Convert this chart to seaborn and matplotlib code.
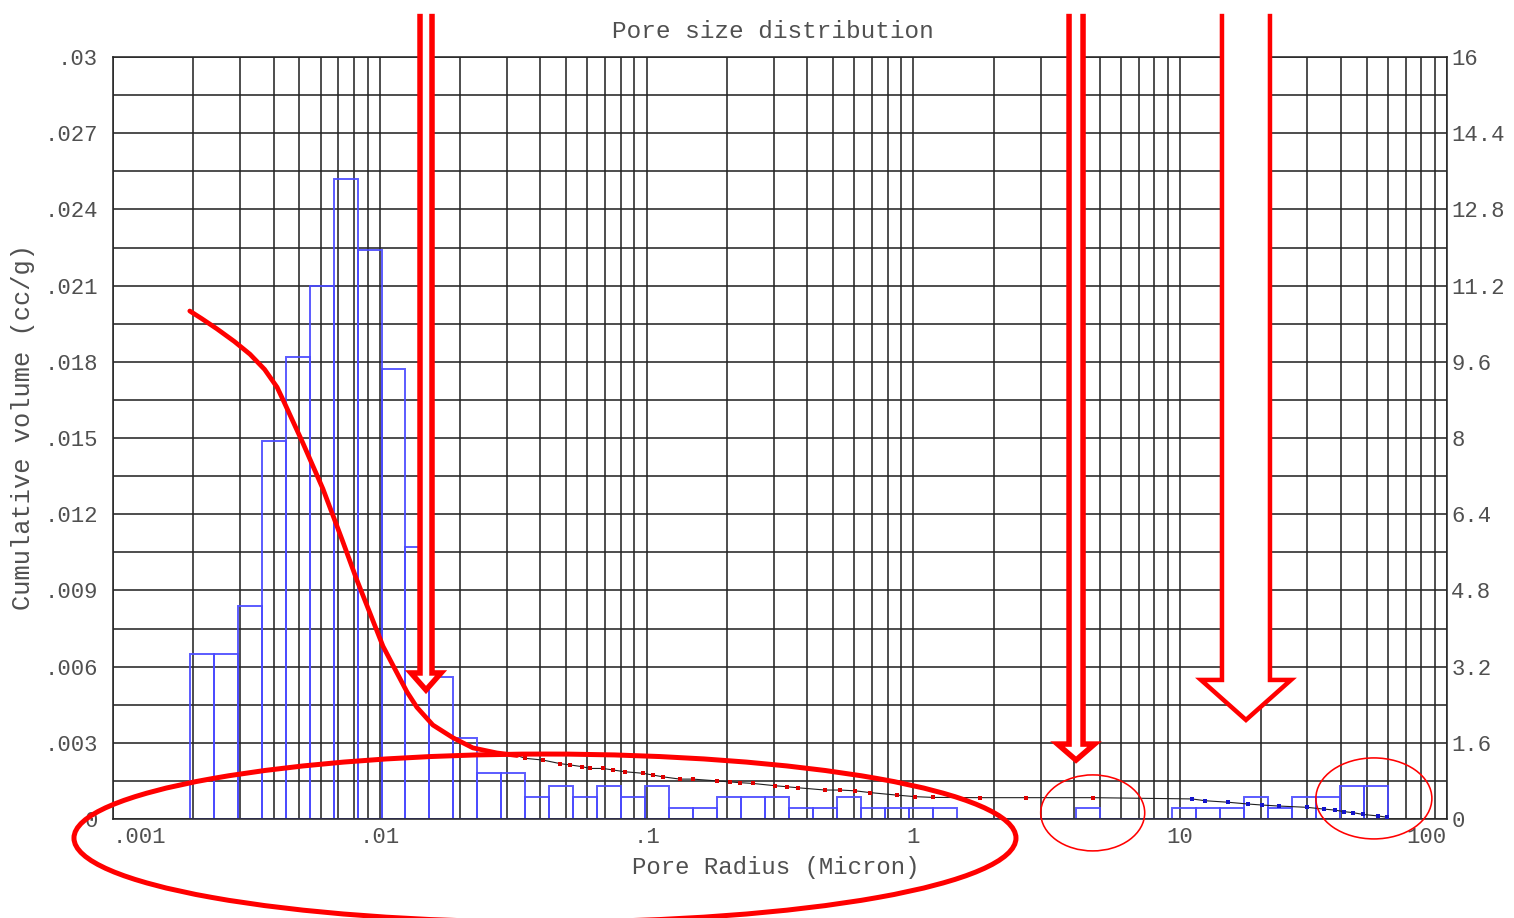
import numpy as np
import matplotlib
matplotlib.use("Agg")
import matplotlib.pyplot as plt
import matplotlib.transforms as mtransforms
from matplotlib.patches import Ellipse, Polygon
from matplotlib.ticker import FixedLocator, MultipleLocator, NullFormatter
import seaborn as sns

# ---------------------------------------------------------------------------
# Data
# ---------------------------------------------------------------------------
# Histogram bins: equal log-width bins of pore radius (micron)
bin_r_min = 0.00194
bin_r_max = 60.1
n_bins = 50

# Incremental pore volume per bin (cc/g)
increment_volume = [
    0.0065, 0.0065, 0.0084, 0.0149, 0.0182, 0.0210, 0.0252, 0.0224, 0.0177, 0.0107,
    0.0056, 0.0032, 0.0018, 0.0018, 0.00087, 0.0013, 0.00087, 0.0013, 0.00087, 0.0013,
    0.00043, 0.00043, 0.00087, 0.00087, 0.00087, 0.00043, 0.00043, 0.00087, 0.00043, 0.00043,
    0.00043, 0.00043, 0.0, 0.0, 0.0, 0.0, 0.0, 0.00043, 0.0, 0.0,
    0.0, 0.00043, 0.00043, 0.00043, 0.00087, 0.00043, 0.00087, 0.00087, 0.0013, 0.0013,
]

# Cumulative volume, closely spaced points at small radii (micron, cc/g)
cum_fine_r = [0.00194, 0.00215, 0.00245, 0.00285, 0.00326, 0.00370, 0.00412, 0.00434,
              0.00515, 0.00612, 0.00722, 0.00821, 0.00919, 0.01028, 0.0114, 0.01265,
              0.01377, 0.01581, 0.01879, 0.02233, 0.02748, 0.0327]
cum_fine_v = [0.0200, 0.0197, 0.0193, 0.0188, 0.0183, 0.0177, 0.0170, 0.0165,
              0.0148, 0.0130, 0.0110, 0.0094, 0.0081, 0.0068, 0.0059, 0.0050,
              0.0044, 0.0037, 0.0032, 0.0028, 0.0026, 0.0025]

# Cumulative volume, sparse points at larger radii
cum_coarse_r = [0.0350, 0.0409, 0.0474, 0.0516, 0.0573, 0.0614, 0.0687, 0.0748, 0.0830,
                0.0969, 0.1057, 0.1152, 0.1334, 0.1492, 0.1836, 0.2054, 0.2239, 0.2505,
                0.3029, 0.3360, 0.3694, 0.4664, 0.5308, 0.6041, 0.6876, 0.8679, 1.014,
                1.185, 1.776, 2.64, 4.71]
cum_coarse_v = [0.00239, 0.00232, 0.00218, 0.00213, 0.00206, 0.00199, 0.00199, 0.00193,
                0.00186, 0.00180, 0.00173, 0.00166, 0.00157, 0.00157, 0.00150, 0.00146,
                0.00143, 0.00140, 0.00131, 0.00127, 0.00123, 0.00114, 0.00114, 0.00111,
                0.00104, 0.00094, 0.00088, 0.00085, 0.00084, 0.00084, 0.00084]

# Cumulative volume, large-pore points
cum_large_r = [11.07, 12.38, 15.11, 17.95, 20.26, 23.46, 29.86, 34.58, 38.04, 41.11,
               44.44, 48.43, 55.11, 59.56]
cum_large_v = [0.00079, 0.00072, 0.00066, 0.00059, 0.00055, 0.00051, 0.00046, 0.00039,
               0.00035, 0.00029, 0.00025, 0.00018, 0.00012, 0.00007]

x_ticks = [0.001, 0.01, 0.1, 1, 10, 100]
x_tick_labels = [".001", ".01", ".1", "1", "10", "100"]
y_ticks = [0, 0.003, 0.006, 0.009, 0.012, 0.015, 0.018, 0.021, 0.024, 0.027, 0.03]
y_tick_labels = ["0", ".003", ".006", ".009", ".012", ".015", ".018", ".021", ".024",
                 ".027", ".03"]
y2_ticks = [0, 1.6, 3.2, 4.8, 6.4, 8, 9.6, 11.2, 12.8, 14.4, 16]
y2_tick_labels = ["0", "1.6", "3.2", "4.8", "6.4", "8", "9.6", "11.2", "12.8", "14.4", "16"]

title_text = "Pore size distribution"
x_label = "Pore Radius (Micron)"
y_label = "Cumulative volume (cc/g)"

# Highlight marks: down arrows (tip radius, tip volume, top volume,
# shaft half width px, head half width px, head length px, stroke px)
arrows = [
    (0.01490, 0.00508, 0.0317, 6, 15, 17, 5.5),
    (4.07, 0.00232, 0.0317, 7, 18.5, 16, 5.5),
    (17.64, 0.0039, 0.0317, 24, 45, 40, 4.5),
]
# Ellipses (centre radius, centre volume, width px, height px, stroke px)
ellipses = [
    (0.0416, -0.00075, 942, 168, 5.0),
    (4.70, 0.00024, 104, 76, 1.6),
    (53.2, 0.00081, 116, 81, 1.6),
]

# ---------------------------------------------------------------------------
# Figure
# ---------------------------------------------------------------------------
sns.set_style("white")
plt.rcParams["font.family"] = ["Liberation Mono", "DejaVu Sans Mono"]
text_color = "#505050"
grid_color = "#262626"

DPI = 100
fig = plt.figure(figsize=(15.14, 9.18), dpi=DPI)
fig.patch.set_facecolor("white")
ax = fig.add_axes([113 / 1514, 1 - 819 / 918, 1334 / 1514, 762 / 918])

# histogram bars
log_lo, log_hi = np.log10(bin_r_min), np.log10(bin_r_max)
log_edges = np.linspace(log_lo, log_hi, n_bins + 1)
bin_centres = 10 ** ((log_edges[:-1] + log_edges[1:]) / 2)
sns.histplot(x=bin_centres, weights=increment_volume, bins=n_bins,
             binrange=(log_lo, log_hi), log_scale=True, stat="count",
             element="bars", fill=False, color="#4a4aff", linewidth=1.4,
             alpha=0.9, ax=ax)

# cumulative curve
all_r = cum_fine_r + cum_coarse_r + cum_large_r
all_v = cum_fine_v + cum_coarse_v + cum_large_v
sns.lineplot(x=all_r, y=all_v, color="#202020", linewidth=0.8, ax=ax,
             sort=False, estimator=None, zorder=3)
sns.lineplot(x=cum_fine_r, y=cum_fine_v, color="#ff0000", linewidth=3.4, ax=ax,
             sort=False, estimator=None, zorder=4)
sns.scatterplot(x=cum_coarse_r, y=cum_coarse_v, marker="s", s=12, color="#e00000",
                linewidth=0, ax=ax, zorder=5)
sns.scatterplot(x=cum_large_r, y=cum_large_v, marker="s", s=11, color="#1414cc",
                linewidth=0, ax=ax, zorder=5)

ax.set_xscale("log")
ax.set_xlim(0.001, 100)
ax.set_ylim(0, 0.03)

# grid: every 1..9 x decade vertically, every 0.0015 horizontally
ax.xaxis.set_major_locator(FixedLocator(x_ticks))
ax.xaxis.set_minor_locator(FixedLocator(
    [k * 10.0 ** e for e in range(-3, 2) for k in range(2, 10)]))
ax.xaxis.set_minor_formatter(NullFormatter())
ax.set_xticklabels(x_tick_labels)
ax.set_yticks(y_ticks)
ax.set_yticklabels(y_tick_labels)
ax.yaxis.set_minor_locator(MultipleLocator(0.0015))
ax.set_axisbelow(True)
ax.grid(True, which="both", color=grid_color, linewidth=1.15)
for sp in ax.spines.values():
    sp.set_color(grid_color)
    sp.set_linewidth(1.15)
ax.tick_params(axis="both", which="both", length=0, labelsize=16,
               labelcolor=text_color)
ax.tick_params(axis="y", pad=11)
ax.tick_params(axis="x", pad=6)
xt = ax.get_xticklabels()
xt[0].set_horizontalalignment("left")
xt[-1].set_horizontalalignment("right")

ax.set_xlabel(x_label, fontsize=17.3, color=text_color)
ax.xaxis.set_label_coords(0.497, -0.048)
ax.set_ylabel(y_label, fontsize=18.3, color=text_color)
ax.yaxis.set_label_coords(-0.0585, 0.514)
ax.set_title(title_text, fontsize=17.6, color=text_color, pad=14, x=0.495)

ax2 = ax.twinx()
ax2.set_ylim(0, 16)
ax2.set_yticks(y2_ticks)
ax2.set_yticklabels(y2_tick_labels)
ax2.grid(False)
ax2.tick_params(axis="y", length=0, labelsize=16, labelcolor=text_color, pad=3)
for sp in ax2.spines.values():
    sp.set_visible(False)

# ---------------------------------------------------------------------------
# Highlight marks
# ---------------------------------------------------------------------------
def anchored(r, v):
    return fig.dpi_scale_trans + mtransforms.ScaledTranslation(r, v, ax.transData)

for r, v, v_top, s, w, h, lw in arrows:
    tip = ax.transData.transform((r, v))
    top = ax.transData.transform((r, v_top))
    L = (top[1] - tip[1])
    pts = np.array([(-s, L), (-s, h), (-w, h), (0, 0), (w, h), (s, h), (s, L)]) / DPI
    fill = Polygon(pts, closed=True, facecolor="white", edgecolor="none",
                   transform=anchored(r, v), zorder=10)
    outline = Polygon(pts, closed=False, fill=False, edgecolor="#ff0000",
                      linewidth=lw * 72 / DPI, joinstyle="miter",
                      transform=anchored(r, v), zorder=11)
    fig.add_artist(fill)
    fig.add_artist(outline)

for r, v, wpx, hpx, lw in ellipses:
    e = Ellipse((0, 0), wpx / DPI, hpx / DPI, fill=False, edgecolor="#ff0000",
                linewidth=lw * 72 / DPI, transform=anchored(r, v), zorder=12)
    fig.add_artist(e)

fig.savefig("out.png", dpi=DPI, facecolor="white")
